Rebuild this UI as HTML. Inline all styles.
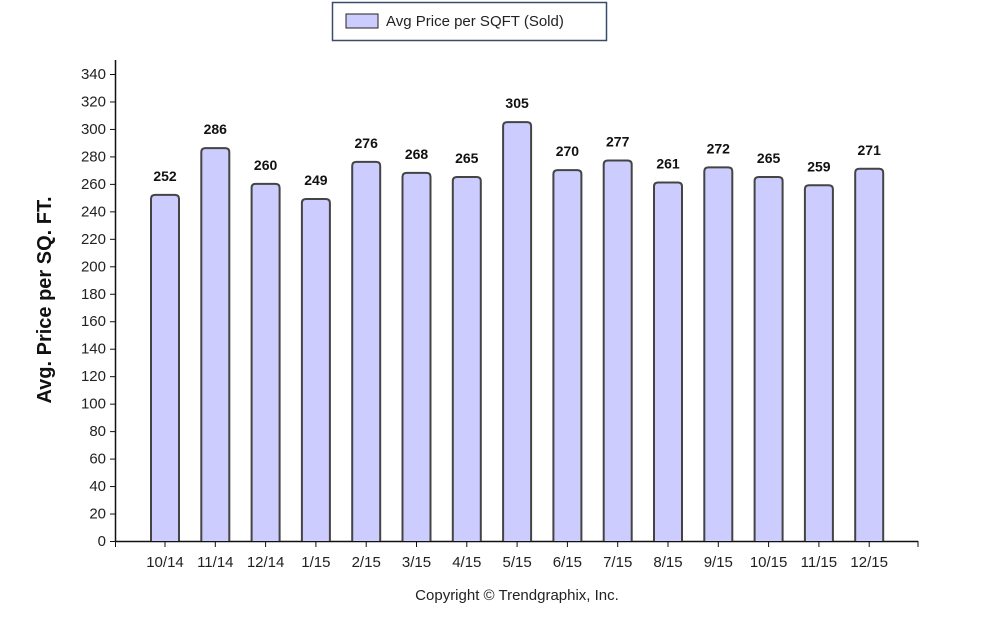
<!DOCTYPE html>
<html><head><meta charset="utf-8"><style>
body{margin:0;background:#fff;width:988px;height:620px;overflow:hidden;font-family:"Liberation Sans",Arial,sans-serif}
</style></head><body>
<svg width="988" height="620" xmlns="http://www.w3.org/2000/svg">
<g>
<rect x="332.5" y="2.5" width="274" height="38" fill="#fff" stroke="#3a4a6a" stroke-width="1.5"/>
<rect x="346" y="14" width="32" height="14" fill="#ccccff" stroke="#222" stroke-width="1"/>
<text x="386" y="26" font-size="15" fill="#222">Avg Price per SQFT (Sold)</text>
</g>
<text transform="translate(51,300) rotate(-90)" text-anchor="middle" font-size="20" font-weight="bold" fill="#111">Avg. Price per SQ. FT.</text>
<g id="axes"></g>
<g id="bars"></g>
<text x="517" y="600" text-anchor="middle" font-size="15" fill="#222">Copyright © Trendgraphix, Inc.</text>
</svg>
<script>
const categories=["10/14","11/14","12/14","1/15","2/15","3/15","4/15","5/15","6/15","7/15","8/15","9/15","10/15","11/15","12/15"];
const values=[252,286,260,249,276,268,265,305,270,277,261,272,265,259,271];
const yTicks=[0,20,40,60,80,100,120,140,160,180,200,220,240,260,280,300,320,340];
const NS="http://www.w3.org/2000/svg";
const y0=541,ppu=(541-74)/340;
function yS(v){return y0-v*ppu;}
function xS(i){return 165+i*50.3;}
function mk(tag,attrs,parent,text){const e=document.createElementNS(NS,tag);for(const k in attrs)e.setAttribute(k,attrs[k]);if(text!==undefined)e.textContent=text;parent.appendChild(e);return e;}
const ax=document.getElementById('axes'),bg=document.getElementById('bars');
let l=mk('line',{x1:115.5,y1:60,x2:115.5,y2:y0+0.5,stroke:'#111','stroke-width':1.5},ax);


l=mk('line',{x1:115,y1:y0+0.5,x2:918,y2:y0+0.5,stroke:'#111','stroke-width':1.5},ax);


mk('line',{x1:115.5,y1:y0,x2:115.5,y2:y0+6,stroke:'#111'},ax);
mk('line',{x1:918,y1:y0,x2:918,y2:y0+6,stroke:'#111'},ax);
yTicks.forEach(t=>{const y=yS(t);
mk('line',{x1:110,y1:y+0.5,x2:115,y2:y+0.5,stroke:'#111'},ax);
const tx=mk('text',{x:106,y:y+5,'text-anchor':'end','font-size':15,fill:'#222'},ax,String(t));

});
categories.forEach((c,i)=>{const cx=xS(i),v=values[i],top=yS(v),w=28;
mk('line',{x1:cx,y1:y0,x2:cx,y2:y0+6,stroke:'#111'},ax);
const tl=mk('text',{x:cx,y:y0+26,'text-anchor':'middle','font-size':15,fill:'#222'},ax,c);


const p=mk('path',{d:`M${cx-w/2},${y0} L${cx-w/2},${top+4} Q${cx-w/2},${top} ${cx-w/2+4},${top} L${cx+w/2-4},${top} Q${cx+w/2},${top} ${cx+w/2},${top+4} L${cx+w/2},${y0}`,fill:'#ccccff',stroke:'#444','stroke-width':2},bg);


const vl=mk('text',{x:cx,y:top-14,'text-anchor':'middle','font-size':14,'font-weight':'bold',fill:'#111'},bg,String(v));

});
</script>
</body></html>
